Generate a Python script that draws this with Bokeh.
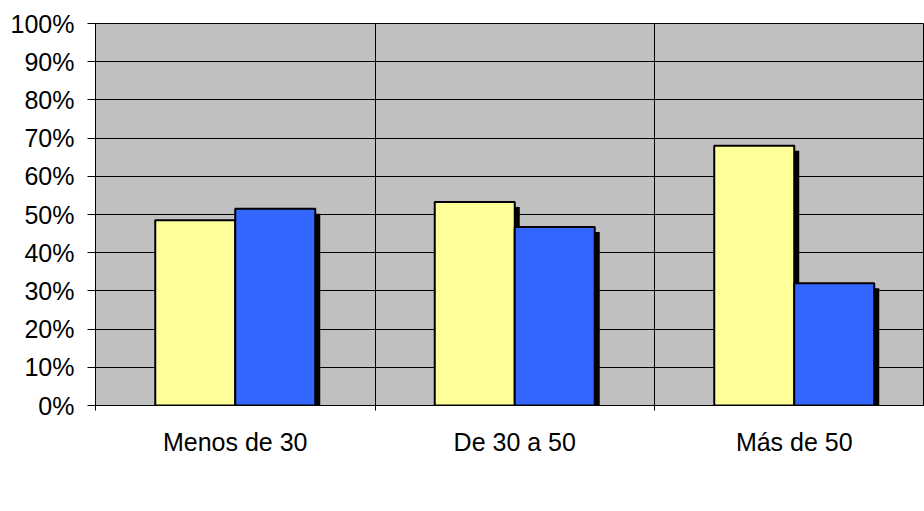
import numpy as np
from bokeh.plotting import figure
from bokeh.models import FixedTicker, Legend, LegendItem, ColumnDataSource, Range1d
from bokeh.embed import file_html
from bokeh.resources import INLINE

categories = ["Menos de 30", "De 30 a 50", "Más de 50"]
si = [48.5, 53.3, 68.0]
no = [51.5, 46.7, 32.0]
series_names = ["Sí", "No"]
y_ticks = [0, 10, 20, 30, 40, 50, 60, 70, 80, 90, 100]
y_tick_labels = ["0%", "10%", "20%", "30%", "40%", "50%", "60%", "70%", "80%", "90%", "100%"]

FONT = "Liberation Sans"
W, H = 924, 511
LEFT, TOP, BOTTOM = 95, 23, 106
plot_w = W - LEFT
plot_h = H - TOP - BOTTOM
cat_px = 279.5
x_end = plot_w / cat_px

bar_w = 80 / cat_px
sh_dx = 5 / cat_px
sh_dy = 5 * 100 / plot_h

idx = np.arange(len(categories))
centers = idx + 0.5
x_si = centers - bar_w / 2
x_no = centers + bar_w / 2

p = figure(width=W, height=H, frame_width=plot_w, frame_height=plot_h,
           output_backend="svg", toolbar_location=None,
           x_range=Range1d(0, x_end), y_range=Range1d(0, 100),
           min_border_left=LEFT, min_border_right=0, min_border_top=TOP,
           min_border_bottom=0)
p.background_fill_color = "#C0C0C0"
p.border_fill_color = "white"
p.outline_line_color = "black"
p.outline_line_width = 1

src_si = ColumnDataSource(dict(x=x_si, top=si, sx=x_si + sh_dx, stop=np.array(si) - sh_dy))
src_no = ColumnDataSource(dict(x=x_no, top=no, sx=x_no + sh_dx, stop=np.array(no) - sh_dy))

# shadows
for src in (src_si, src_no):
    p.vbar(x="sx", top="stop", bottom=-10, width=bar_w, source=src,
           fill_color="black", line_color=None)

r_si = p.vbar(x="x", top="top", bottom=0, width=bar_w, source=src_si,
              fill_color="#FFFF99", line_color="black", line_width=2)
r_no = p.vbar(x="x", top="top", bottom=0, width=bar_w, source=src_no,
              fill_color="#3366FF", line_color="black", line_width=2)

# grids
p.ygrid.ticker = FixedTicker(ticks=y_ticks)
p.ygrid.grid_line_color = "black"
p.ygrid.grid_line_width = 1
p.xgrid.ticker = FixedTicker(ticks=[1, 2, 3])
p.xgrid.grid_line_color = "black"
p.xgrid.grid_line_width = 1

# y axis
ya = p.yaxis[0]
ya.ticker = FixedTicker(ticks=y_ticks)
ya.major_label_overrides = {t: l for t, l in zip(y_ticks, y_tick_labels)}
ya.major_tick_out = 8
ya.major_tick_in = 0
ya.minor_tick_line_color = None
ya.axis_line_color = "black"
ya.major_tick_line_color = "black"
ya.major_label_text_font = FONT
ya.major_label_text_font_size = "25px"
ya.major_label_text_color = "black"
ya.major_label_standoff = 13

# x axis
xa = p.xaxis[0]
xa.ticker = FixedTicker(ticks=list(centers), minor_ticks=[0, 1, 2, 3])
xa.major_label_overrides = {float(c): l for c, l in zip(centers, categories)}
xa.major_tick_out = 0
xa.major_tick_in = 0
xa.minor_tick_out = 5
xa.minor_tick_in = 0
xa.minor_tick_line_color = "black"
xa.axis_line_color = "black"
xa.major_label_text_font = FONT
xa.major_label_text_font_size = "25px"
xa.major_label_text_color = "black"
xa.major_label_standoff = 17

legend = Legend(items=[LegendItem(label=series_names[0], renderers=[r_si]),
                       LegendItem(label=series_names[1], renderers=[r_no])],
                location="bottom_center", orientation="horizontal", margin=0, padding=0,
                spacing=9, label_width=348, glyph_width=19, glyph_height=19,
                label_standoff=5,
                label_text_font=FONT, label_text_font_size="25px",
                label_text_color="black",
                background_fill_alpha=0, border_line_alpha=0)
p.add_layout(legend, "below")

open("out.html", "w").write(file_html(p, INLINE))
